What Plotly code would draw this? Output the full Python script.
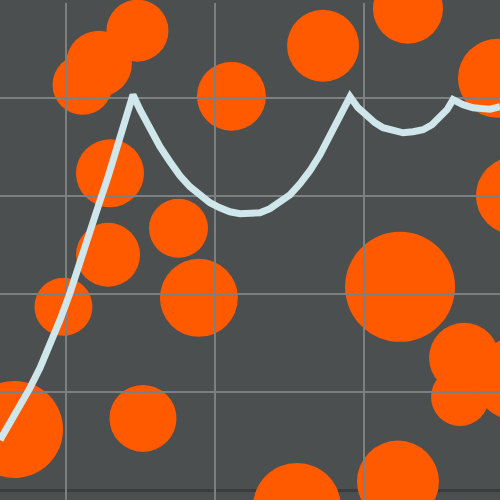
import plotly.graph_objects as go

# Bubble data
bubble_x = [0.657, 1.518, 0.985, 1.284, 1.297, 1.756, 1.893, 1.113, 1.223, 1.481,
            2.111, 2.725, 3.294, 3.894, 4.011, 3.241, 3.670, 3.643, 4.011, 3.227, 2.550]
bubble_y = [0.624, 0.736, 1.873, 2.403, 3.233, 2.673, 1.964, 4.136, 4.350, 4.686,
            4.018, 4.533, 4.910, 4.202, 3.004, 2.076, 1.353, 0.955, 1.139, 0.092, -0.166]
bubble_size = [97, 67, 58, 64, 68, 59, 78, 60, 66, 62,
               69, 72, 70, 79, 78, 110, 70, 58, 82, 82, 88]

# Line data
line_x = [0.560, 0.627, 0.694, 0.761, 0.828, 0.895, 0.962, 1.029, 1.096, 1.163, 1.230,
          1.284, 1.330, 1.377, 1.418, 1.451,
          1.498, 1.565, 1.632, 1.699, 1.766, 1.833, 1.900, 1.967, 2.034, 2.101, 2.168,
          2.235, 2.302, 2.369, 2.436, 2.503, 2.570, 2.637, 2.704, 2.771, 2.838, 2.906,
          2.959, 3.019, 3.073, 3.127, 3.194, 3.261, 3.328, 3.395, 3.455, 3.509, 3.556, 3.596,
          3.663, 3.730, 3.797, 3.844, 3.911]
line_y = [0.517, 0.690, 0.863, 1.047, 1.251, 1.485, 1.740, 2.015, 2.311, 2.627, 2.953,
          3.198, 3.422, 3.677, 3.881, 4.034,
          3.881, 3.687, 3.504, 3.351, 3.208, 3.096, 3.004, 2.933, 2.882, 2.841, 2.821,
          2.821, 2.831, 2.872, 2.933, 3.014, 3.126, 3.259, 3.422, 3.606, 3.809, 4.013,
          3.901, 3.809, 3.748, 3.697, 3.667, 3.646, 3.657, 3.677, 3.728, 3.799, 3.881, 3.983,
          3.932, 3.901, 3.886, 3.886, 3.911]

x_grid = [1, 2, 3]
y_grid = [1, 2, 3, 4]

BG = "#4b4f4f"
GRID = "#7d8080"
ZERO = "#3a3d3d"
ORANGE = "#ff5a00"
LINE = "#cfe6ea"

# plot area is larger than the visible 500x500 window; the page crops it
x_range = [0.5597, 4.112]
y_range = [-0.299, 4.968]

fig = go.Figure()
fig.add_trace(go.Scatter(
    x=bubble_x, y=bubble_y, mode="markers",
    marker=dict(size=bubble_size, color=ORANGE, line=dict(width=0), opacity=1),
    cliponaxis=False, xaxis="x", yaxis="y", hoverinfo="skip", showlegend=False,
))
fig.add_trace(go.Scatter(
    x=line_x, y=line_y, mode="lines",
    line=dict(color=LINE, width=7),
    xaxis="x2", yaxis="y2", hoverinfo="skip", showlegend=False,
))

common = dict(showticklabels=False, ticks="", showline=False, fixedrange=True)
fig.update_layout(
    width=530, height=520,
    margin=dict(l=0, r=0, t=3, b=0, pad=0),
    paper_bgcolor=BG, plot_bgcolor="rgba(0,0,0,0)",
    showlegend=False,
    xaxis=dict(domain=[0, 1], range=x_range, showgrid=False, zeroline=False, anchor="y", **common),
    yaxis=dict(domain=[0, 1], range=y_range, showgrid=False, zeroline=True,
               zerolinecolor=ZERO, zerolinewidth=3, anchor="x", **common),
    xaxis2=dict(domain=[0, 1], range=x_range, showgrid=True, gridcolor=GRID, gridwidth=2,
                tickmode="array", tickvals=x_grid, zeroline=False, anchor="y2", **common),
    yaxis2=dict(domain=[0, 1], range=y_range, showgrid=True, gridcolor=GRID, gridwidth=2,
                tickmode="array", tickvals=y_grid, zeroline=False, anchor="x2", **common),
)

fig.write_html(
    "out.html",
    config={"displayModeBar": False},
    post_script="document.body.style.margin='0px';document.body.style.overflow='hidden';",
)
